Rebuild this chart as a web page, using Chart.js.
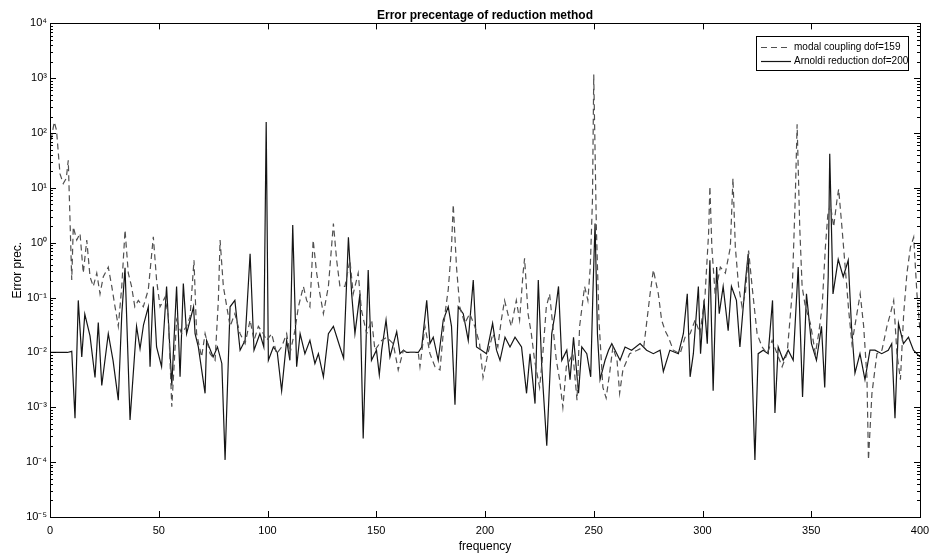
<!DOCTYPE html>
<html>
<head>
<meta charset="utf-8">
<script src="https://cdn.jsdelivr.net/npm/chart.js@4/dist/chart.umd.min.js"></script>
<style>
html,body{margin:0;padding:0;background:#fff;}
#wrap{width:931px;height:559px;position:relative;}
</style>
</head>
<body>
<div id="wrap"><canvas id="c" width="931" height="559"></canvas></div>
<script>
// ---- data ----
const modalFreq = [
  0,1,2,3,4.6,6.1,7.5,8.4,9.2,10,
  10.7,12.3,13.8,15.3,16.9,18.4,19.9,21.5,23,24.5,
  26.8,28.4,29.9,31.4,33,34.5,36,37.5,39,40.6,
  42.9,45.2,47.5,49,50.6,52.9,54.4,56,58.2,60.5,
  62.8,64.4,66.2,67.4,69.7,71.3,73.6,75.9,77.4,78.2,
  79.7,82.8,85,87.4,89.7,92,93.8,95.8,98.1,99.6,
  101.9,104.2,106.5,108.8,110.3,112.6,114.2,116.5,118,119.5,
  121,122.6,124.1,125.7,128,130.3,131.8,133.3,135.6,137.9,
  139.4,141.7,143.2,145.6,147.9,149.4,152.5,154.8,157.8,160.1,
  162.5,164,169.3,170.1,172.4,174.7,177,179.3,181.6,183.1,
  184.6,185.4,186.9,188.4,190.7,193,195.3,197.5,199.1,201.3,
  203.6,205.9,207.5,209,210.5,212.1,214.4,215.9,217.5,218.2,
  219.8,221.3,222.8,225.1,226.6,228.2,229.7,231.2,232.8,234.3,
  235.8,237.4,240.4,242.3,243.5,245.8,247.3,248.4,249.4,250,
  251.2,252.4,254.2,255.7,257.3,258.8,260.7,261.9,263.4,266.5,
  270,273,275.9,277.4,279.7,281.2,282.8,284.3,286.6,289.7,
  292,294.3,296.6,298.9,301.2,302.8,303.4,304.3,305.8,308.2,
  310.5,312.8,314,315.1,316.6,318.2,319.7,321.2,322.8,325.1,
  327.4,329.7,332,334.3,336.6,338.9,341.2,342.7,343.5,344.7,
  345.8,347.3,349.6,351.9,353.4,355,356.5,357.6,358.8,360.3,
  361.8,362.6,364.1,365.6,367.2,368.7,371,372.5,374.1,375.6,
  376.3,377.9,380.2,382.5,384.8,386.4,387.9,389.4,391,392.5,
  394,395.6,397.1,398.6,400
];
const modalErr = [
  50,100,160,112,18,12,15,32,2.6,0.21,
  1.95,1.12,1.48,0.28,1.12,0.24,0.16,0.28,0.117,0.24,
  0.36,0.16,0.068,0.03,0.16,1.7,0.28,0.16,0.068,0.089,
  0.068,0.14,1.29,0.21,0.068,0.102,0.045,0.00102,0.039,0.022,
  0.03,0.045,0.48,0.022,0.0083,0.022,0.0095,0.0072,0.089,1.12,
  0.16,0.03,0.051,0.022,0.0145,0.039,0.0166,0.03,0.022,0.0166,
  0.022,0.0095,0.0126,0.022,0.0095,0.025,0.068,0.16,0.089,0.068,
  1.12,0.28,0.117,0.051,0.16,2.24,0.48,0.16,0.16,0.48,
  0.117,0.28,0.059,0.022,0.039,0.011,0.0166,0.019,0.0145,0.0048,
  0.011,0.01,0.01,0.0055,0.03,0.0095,0.0055,0.0048,0.051,0.14,
  0.83,5.0,0.36,0.068,0.034,0.051,0.03,0.0145,0.0035,0.0095,
  0.022,0.0126,0.039,0.089,0.051,0.03,0.089,0.039,0.28,0.52,
  0.051,0.022,0.0072,0.0023,0.0095,0.068,0.117,0.03,0.0072,0.0032,
  0.001,0.0055,0.0095,0.00135,0.03,0.16,0.089,0.36,5.9,1170,
  1.95,0.039,0.0023,0.00148,0.0042,0.0126,0.0072,0.0018,0.0048,0.0095,
  0.011,0.0126,0.117,0.32,0.117,0.039,0.025,0.019,0.011,0.0095,
  0.019,0.022,0.039,0.022,0.117,1.48,10.7,0.83,0.117,0.36,
  0.28,0.83,15,0.83,0.16,0.068,0.117,0.72,0.16,0.022,
  0.0126,0.0095,0.0166,0.0095,0.0055,0.0095,0.117,7.9,145,1.95,
  0.16,0.068,0.034,0.0095,0.022,0.068,0.83,3.2,5.0,1.95,
  5.9,9.5,1.95,0.36,0.059,0.0145,0.051,0.117,0.03,0.0036,
  0.00011,0.0018,0.0095,0.011,0.03,0.051,0.089,0.0095,0.0032,0.051,
  0.28,0.83,1.26,0.117,0.025
];
const arnoldiFreq = [
  0,8,10,11.5,13,14.6,16,18.4,20.7,22.2,
  23.8,26.8,29,31.4,33,34.5,36.8,39.8,41.4,43,
  45.2,46,47.5,49,51.3,53.6,56,58.2,59.8,61.3,
  62.8,66,66.7,68.2,71.3,72,75,77,79,80.5,
  82.8,85,87.4,89.7,92,93.8,96.5,98.3,99.4,100.4,
  102.7,104.5,106.5,108.8,110.3,111.6,113.4,115,117.2,119.5,
  121.8,123.4,125.7,128,130.3,133.3,135,137.2,138.7,140.2,
  142.5,144,146.3,147.8,150.1,151.4,152.5,154.5,156.3,159.4,
  160.9,162.5,164,169.3,170.9,173.2,174.7,176.2,178.5,180.8,
  183.1,184.6,186.2,187.7,190,192.3,194.6,196.1,198.4,200.7,
  203.5,205.3,206.9,209.2,211.5,213.8,216.8,219.1,220.7,223,
  224.5,226.1,228.4,230.7,232.2,233.8,235.3,237.6,239.1,240.7,
  243,244.5,246.8,248.6,249.6,250.6,251.7,252.9,255.2,256.8,
  258.3,260.6,262.1,264.4,267.4,271.3,274.3,277.4,280.5,282,
  285,288.9,291.2,293,294.3,295.8,298.1,299.1,300.7,302.2,
  303.4,304.9,306.5,307.7,309.5,311.8,313.3,315.6,317.2,319.5,
  321,322.5,324.1,325.6,327.9,330.2,332.2,333.3,334.8,337.1,
  339.4,341.7,344,346,347.8,350.1,352.4,354.7,356.2,357.8,
  358.5,360,362.4,364.7,367,368.5,370.1,372.4,374.7,377,
  379.3,382.4,385.4,387,388.5,390.1,392.4,394.7,397,400
];
const arnoldiErr = [
  0.01,0.01,0.0105,0.00063,0.089,0.0083,0.05,0.02,0.0035,0.035,
  0.0025,0.022,0.0071,0.00135,0.05,0.35,0.00059,0.03,0.0117,0.032,
  0.068,0.0055,0.16,0.0126,0.0055,0.16,0.0025,0.16,0.0036,0.18,
  0.022,0.068,0.022,0.0126,0.0018,0.0166,0.0083,0.0126,0.0063,0.00011,
  0.068,0.089,0.011,0.0166,0.63,0.011,0.022,0.0126,160,0.0072,
  0.0126,0.01,0.002,0.0166,0.0072,2.1,0.0055,0.022,0.0095,0.0166,
  0.0063,0.0095,0.0036,0.022,0.03,0.0126,0.0079,1.26,0.117,0.022,
  0.117,0.00027,0.32,0.0072,0.011,0.0039,0.011,0.039,0.0083,0.024,
  0.0095,0.011,0.01,0.01,0.0126,0.089,0.0145,0.019,0.0072,0.039,
  0.068,0.03,0.00112,0.068,0.051,0.0166,0.21,0.0126,0.011,0.0095,
  0.034,0.011,0.0072,0.019,0.0126,0.019,0.0126,0.0018,0.0095,0.00117,
  0.21,0.0055,0.0002,0.022,0.051,0.16,0.0072,0.011,0.0032,0.019,
  0.0018,0.0126,0.0095,0.0036,0.117,2.24,0.022,0.0032,0.0072,0.011,
  0.0145,0.0095,0.0072,0.0126,0.011,0.0145,0.011,0.0095,0.011,0.0045,
  0.011,0.0095,0.022,0.117,0.0036,0.0095,0.16,0.0095,0.089,0.0145,
  0.48,0.002,0.36,0.051,0.16,0.025,0.16,0.089,0.0126,0.16,
  0.63,0.011,0.00011,0.0095,0.011,0.0095,0.089,0.00079,0.0126,0.0072,
  0.011,0.0072,0.36,0.00155,0.117,0.0145,0.0072,0.03,0.0023,0.24,
  42,0.117,0.5,0.24,0.48,0.03,0.0042,0.0095,0.0032,0.011,
  0.011,0.0095,0.011,0.0145,0.00063,0.034,0.0145,0.019,0.011,0.0083
];
const xTickValues = [0,50,100,150,200,250,300,350,400];
const yDecades = [-5,-4,-3,-2,-1,0,1,2,3,4];
const yTickLabels = ['10\u207B\u2075','10\u207B\u2074','10\u207B\u00B3','10\u207B\u00B2','10\u207B\u00B9','10\u2070','10\u00B9','10\u00B2','10\u00B3','10\u2074'];
const seriesLabels = ['modal coupling dof=159','Arnoldi reduction dof=200'];
const titleText = 'Error precentage of reduction method';
const xTitle = 'frequency';
const yTitle = 'Error prec.';

// ---- chart ----
const FONT = "'Liberation Sans', Arial, Helvetica, sans-serif";
Chart.defaults.font.family = FONT;
Chart.defaults.color = '#000';

function toPoints(xs, ys){ return xs.map((x,i)=>({x:x, y:ys[i]})); }

function isDecade(v){ const e = Math.log10(v); return Math.abs(e - Math.round(e)) < 1e-9; }

const boxAndLegend = {
  id: 'boxAndLegend',
  afterDatasetsDraw(chart){
    const {ctx, chartArea:a, scales} = chart;
    const xs = scales.x, ys = scales.y;
    ctx.save();
    ctx.strokeStyle = '#000';
    ctx.lineWidth = 1;
    ctx.setLineDash([]);
    ctx.beginPath();
    xTickValues.forEach(v=>{
      const px = Math.round(xs.getPixelForValue(v)) + 0.5;
      ctx.moveTo(px, a.bottom); ctx.lineTo(px, a.bottom - 6);
      ctx.moveTo(px, a.top); ctx.lineTo(px, a.top + 6);
    });
    ys.ticks.forEach(t=>{
      const py = Math.round(ys.getPixelForValue(t.value)) + 0.5;
      const len = isDecade(t.value) ? 6 : 3;
      ctx.moveTo(a.left, py); ctx.lineTo(a.left + len, py);
      ctx.moveTo(a.right, py); ctx.lineTo(a.right - len, py);
    });
    ctx.stroke();
    ctx.strokeRect(Math.round(a.left)+0.5, Math.round(a.top)+0.5, Math.round(a.right-a.left), Math.round(a.bottom-a.top));

    // legend box (top-right, inside axes)
    const lw = 152, lh = 34;
    const lx = Math.round(a.right) - 12 - lw, ly = Math.round(a.top) + 13;
    ctx.fillStyle = '#fff';
    ctx.fillRect(lx, ly, lw, lh);
    ctx.strokeStyle = '#000';
    ctx.strokeRect(lx + 0.5, ly + 0.5, lw, lh);
    ctx.font = '10px ' + FONT;
    ctx.textBaseline = 'middle';
    ctx.textAlign = 'left';
    chart.data.datasets.forEach((ds, i)=>{
      const yy = ly + 11 + i * 14 + 0.5;
      ctx.strokeStyle = ds.borderColor;
      ctx.lineWidth = ds.borderWidth;
      ctx.setLineDash(ds.borderDash || []);
      ctx.beginPath();
      ctx.moveTo(lx + 5, yy); ctx.lineTo(lx + 35, yy);
      ctx.stroke();
      ctx.setLineDash([]);
      ctx.fillStyle = '#000';
      ctx.fillText(ds.label, lx + 38, yy);
    });
    ctx.restore();
  }
};

new Chart(document.getElementById('c'), {
  type: 'line',
  data: {
    datasets: [
      {
        label: seriesLabels[0],
        data: toPoints(modalFreq, modalErr),
        borderColor: '#505050',
        borderWidth: 1.2,
        borderDash: [6,4],
        pointRadius: 0,
        tension: 0,
        fill: false
      },
      {
        label: seriesLabels[1],
        data: toPoints(arnoldiFreq, arnoldiErr),
        borderColor: '#151515',
        borderWidth: 1.2,
        pointRadius: 0,
        tension: 0,
        fill: false
      }
    ]
  },
  plugins: [boxAndLegend],
  options: {
    responsive: false,
    animation: false,
    devicePixelRatio: 1,
    layout: { padding: { left: 0, right: 11, top: 0, bottom: 0 } },
    plugins: {
      legend: { display: false },
      tooltip: { enabled: false },
      title: {
        display: true,
        fullSize: false,
        text: titleText,
        font: { size: 12, weight: 'bold', family: FONT },
        color: '#000',
        padding: { top: 8, bottom: 1 }
      }
    },
    scales: {
      x: {
        type: 'linear',
        min: 0, max: 400,
        afterBuildTicks(scale){ scale.ticks = xTickValues.map(v=>({value:v})); },
        afterFit(scale){ scale.height = 42; scale.paddingRight = 0; scale.paddingLeft = 0; },
        grid: { display: false, drawTicks: false },
        border: { display: false },
        ticks: { font: { size: 11 }, color: '#000', padding: 7, maxRotation: 0, autoSkip: false },
        title: { display: true, text: xTitle, font: { size: 12 }, color: '#000', padding: { top: 0, bottom: 5 } }
      },
      y: {
        type: 'logarithmic',
        min: 1e-5, max: 1e4,
        afterBuildTicks(scale){
          const t = [];
          yDecades.forEach(e=>{
            for (let k = 1; k <= 9; k++) {
              const v = k * Math.pow(10, e);
              t.push({value: v});
              if (e === 4) break;
            }
          });
          scale.ticks = t;
        },
        afterFit(scale){ scale.width = 50; scale.paddingTop = 0; scale.paddingBottom = 0; },
        grid: { display: false, drawTicks: false },
        border: { display: false },
        ticks: {
          font: { size: 11 }, color: '#000', padding: 3, autoSkip: false,
          callback(value){
            if (!isDecade(value)) return '';
            const idx = yDecades.indexOf(Math.round(Math.log10(value)));
            return idx >= 0 ? yTickLabels[idx] : '';
          }
        },
        title: { display: true, text: yTitle, font: { size: 12 }, color: '#000', padding: { top: 10, bottom: 0 } }
      }
    }
  }
});
</script>
</body>
</html>
